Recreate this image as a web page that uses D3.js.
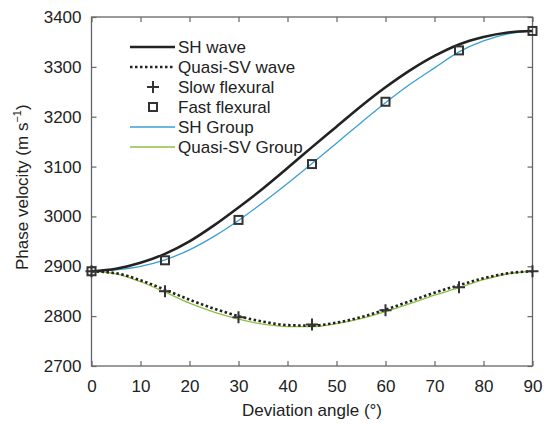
<!DOCTYPE html>
<html><head><meta charset="utf-8">
<script src="https://cdn.jsdelivr.net/npm/d3@7"></script>
<style>body{margin:0;background:#fff}text{font-family:"Liberation Sans",Arial,sans-serif}</style>
</head><body>
<script>
const angles = [0,5,10,15,20,25,30,35,40,45,50,55,60,65,70,75,80,85,90];
const shWave = [2890,2895,2907,2925,2950,2982,3018,3056,3097,3139,3180,3221,3259,3293,3322,3345,3360,3369,3372];
const svWave = [2890,2886,2872,2853,2833,2815,2800,2789,2782,2781,2787,2798,2813,2830,2847,2862,2876,2886,2890];
const shGroup = [2890,2893,2900,2913,2933,2960,2992,3028,3066,3106,3147,3188,3228,3265,3298,3330,3352,3366,3372];
const svGroup = [2890,2885,2869,2848,2826,2808,2794,2784,2779,2779,2785,2795,2809,2825,2842,2857,2873,2885,2890];
const markAngles = [0,15,30,45,60,75,90];
const slowFlex = [2890,2850,2798,2783,2812,2858,2890];
const fastFlex = [2890,2912,2993,3105,3230,3333,3372];
const xTicks = [0,10,20,30,40,50,60,70,80,90];
const yTicks = [2700,2800,2900,3000,3100,3200,3300,3400];
const legendLabels = ["SH wave","Quasi-SV wave","Slow flexural","Fast flexural","SH Group","Quasi-SV Group"];

const W=550,H=424, L=91.5, R=532.5, T=17, B=366;
const FS="17px";
const svg=d3.select("body").append("svg").attr("width",W).attr("height",H);
const x=d3.scaleLinear().domain([0,90]).range([L,R]);
const y=d3.scaleLinear().domain([2700,3400]).range([B,T]);
const axC="#666";
const fmt=d3.format("d");

svg.append("rect").attr("x",L).attr("y",T).attr("width",R-L).attr("height",B-T).attr("fill","none").attr("stroke",axC).attr("stroke-width",1.3);
const ax=[d3.axisBottom(x).tickValues(xTicks).tickSizeInner(-5).tickFormat(fmt),d3.axisTop(x).tickValues(xTicks).tickSizeInner(-5).tickFormat(""),
 d3.axisLeft(y).tickValues(yTicks).tickSizeInner(-5).tickFormat(fmt),d3.axisRight(y).tickValues(yTicks).tickSizeInner(-5).tickFormat("")];
const pos=[`translate(0,${B})`,`translate(0,${T})`,`translate(${L},0)`,`translate(${R},0)`];
ax.forEach((a,i)=>{const g=svg.append("g").attr("transform",pos[i]).call(a.tickSizeOuter(0).tickPadding(i==0?14:10));
 g.select(".domain").remove(); g.selectAll("line").attr("stroke",axC).attr("stroke-width",1.2);
 g.selectAll("text").attr("fill","#222").style("font-size",FS).style("font-family","'Liberation Sans',Arial,sans-serif");});

const line=(vals,xs)=>d3.line().x((d,i)=>x(xs[i])).y(d=>y(d)).curve(d3.curveMonotoneX)(vals);
svg.append("path").attr("d",line(shGroup,angles)).attr("fill","none").attr("stroke","#3a9fd3").attr("stroke-width",1.3);
svg.append("path").attr("d",line(svGroup,angles)).attr("fill","none").attr("stroke","#8cbf3f").attr("stroke-width",1.3);
svg.append("path").attr("d",line(shWave,angles)).attr("fill","none").attr("stroke","#222").attr("stroke-width",2.6);
svg.append("path").attr("d",line(svWave,angles)).attr("fill","none").attr("stroke","#222").attr("stroke-width",2.6).attr("stroke-dasharray","2.5,2.5");

const cross=(g,cx,cy)=>g.append("path").attr("d",`M${cx-6},${cy}H${cx+6}M${cx},${cy-6}V${cy+6}`).attr("stroke","#333").attr("stroke-width",2);
const square=(g,cx,cy)=>g.append("rect").attr("x",cx-4).attr("y",cy-4).attr("width",8).attr("height",8).attr("fill","none").attr("stroke","#333").attr("stroke-width",2);
markAngles.forEach((a,i)=>cross(svg,x(a),y(slowFlex[i])));
markAngles.forEach((a,i)=>square(svg,x(a),y(fastFlex[i])));

const lg=svg.append("g");
const ly=[47,67,87,107,127,147];
legendLabels.forEach((t,i)=>{
  const yy=ly[i];
  if(i==0) lg.append("line").attr("x1",130).attr("x2",175).attr("y1",yy).attr("y2",yy).attr("stroke","#222").attr("stroke-width",2.6);
  if(i==1) lg.append("line").attr("x1",130).attr("x2",175).attr("y1",yy).attr("y2",yy).attr("stroke","#222").attr("stroke-width",2.6).attr("stroke-dasharray","2.5,2.5");
  if(i==2) cross(lg,153,yy);
  if(i==3) square(lg,153,yy);
  if(i==4) lg.append("line").attr("x1",130).attr("x2",175).attr("y1",yy).attr("y2",yy).attr("stroke","#3a9fd3").attr("stroke-width",1.3);
  if(i==5) lg.append("line").attr("x1",130).attr("x2",175).attr("y1",yy).attr("y2",yy).attr("stroke","#8cbf3f").attr("stroke-width",1.3);
  lg.append("text").attr("x",178).attr("y",yy).attr("dy","0.35em").style("font-size",FS).attr("fill","#222").text(t);
});

svg.append("text").attr("x",(L+R)/2).attr("y",416).attr("text-anchor","middle").style("font-size",FS).attr("fill","#222").text("Deviation angle (°)");
const yl=svg.append("text").attr("transform",`translate(28,270) rotate(-90)`).attr("text-anchor","start").style("font-size",FS).attr("fill","#222");
yl.append("tspan").text("Phase velocity (m s");
yl.append("tspan").attr("dy",-7).style("font-size","11px").text("−1");
yl.append("tspan").attr("dy",7).text(")");
</script>
</body></html>
